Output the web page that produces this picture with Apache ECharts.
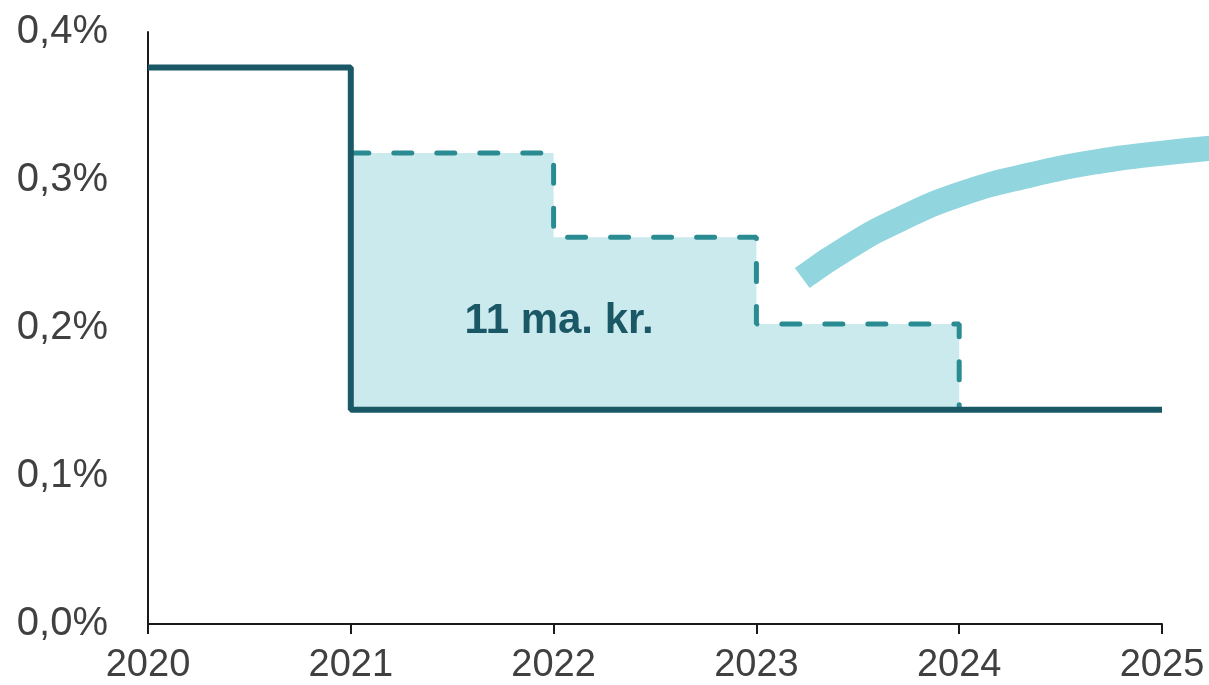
<!DOCTYPE html>
<html>
<head>
<meta charset="utf-8">
<script src="https://cdn.jsdelivr.net/npm/echarts@6/dist/echarts.min.js"></script>
<style>
html,body{margin:0;padding:0;background:#fff;}
#chart{width:1209px;height:685px;}
</style>
</head>
<body>
<div id="chart"></div>
<script>
// ---- data ----
const years = [2020, 2021, 2022, 2023, 2024, 2025];
const actualValues = [0.376, 0.1448, 0.1448, 0.1448, 0.1448, 0.1448];   // solid step line (%)
const planYears = [2021, 2022, 2023, 2024];
const planValues = [0.3182, 0.2613, 0.2027, 0.1448];                    // dashed step line (%)
const arcX = [2023.226, 2023.463, 2023.710, 2024.006, 2024.351, 2024.697, 2024.993, 2025.249];
const arcY = [0.2338, 0.2554, 0.2736, 0.2905, 0.3034, 0.3128, 0.3180, 0.3216];
const yTicks = [0, 0.1, 0.2, 0.3, 0.4];
const annotation = { x: 2022.03, y: 0.204, text: '11 ma. kr.' };

const solidColor = '#1b5866';
const dashColor = '#2a8b93';
const fillColor = '#cbeaed';
const arcColor = '#91d5df';
const textColor = '#404040';
const FONT = '"Liberation Sans", Arial, Helvetica, sans-serif';

const solidData = years.map((y, i) => [y, actualValues[i]]);
const planData = planYears.map((y, i) => [y, planValues[i]]);
const arcData = arcX.map((x, i) => [x, arcY[i]]);
const baseLevel = actualValues[1];

const chart = echarts.init(document.getElementById('chart'), null, { renderer: 'canvas' });
chart.setOption({
  animation: false,
  backgroundColor: '#ffffff',
  grid: [
    { left: 148, right: 47, top: 32, bottom: 61, containLabel: false, outerBoundsMode: 'none' },
    // same scale, wider extent so the decorative arc is not clipped at 2025
    { left: 148, width: 2028, top: 32, bottom: 61, containLabel: false, outerBoundsMode: 'none' }
  ],
  xAxis: [{
    type: 'value', min: 2020, max: 2025, interval: 1, gridIndex: 0,
    axisLine: { show: true, lineStyle: { color: '#1a1a1a', width: 2 } },
    axisTick: { show: true, length: 10, lineStyle: { color: '#1a1a1a', width: 2 } },
    splitLine: { show: false },
    axisLabel: { margin: 23, color: textColor, fontFamily: FONT, fontSize: 38, formatter: v => String(v) }
  }, {
    type: 'value', min: 2020, max: 2030, gridIndex: 1, show: false,
    splitLine: { show: false }
  }],
  yAxis: [{
    type: 'value', min: 0, max: 0.4, interval: 0.1, gridIndex: 0,
    axisLine: { show: true, lineStyle: { color: '#1a1a1a', width: 2 } },
    axisTick: { show: false },
    splitLine: { show: false },
    axisLabel: {
      margin: 40, color: textColor, fontFamily: FONT, fontSize: 40,
      customValues: yTicks,
      formatter: v => v.toFixed(1).replace('.', ',') + '%'
    }
  }, {
    type: 'value', min: 0, max: 0.4, gridIndex: 1, show: false,
    splitLine: { show: false }
  }],
  series: [
    {
      type: 'line', data: planData, step: 'end', symbol: 'none', z: 2,
      lineStyle: { color: dashColor, width: 5, type: [18, 25], cap: 'round' },
      areaStyle: { color: fillColor, opacity: 1, origin: baseLevel }
    },
    {
      type: 'line', data: solidData, step: 'end', symbol: 'none', z: 4,
      lineStyle: { color: solidColor, width: 6 }
    },
    {
      type: 'line', data: arcData, smooth: 0.5, symbol: 'none', z: 3,
      xAxisIndex: 1, yAxisIndex: 1,
      lineStyle: { color: arcColor, width: 25, cap: 'butt' }
    },
    {
      type: 'scatter', data: [[annotation.x, annotation.y]], symbolSize: 1,
      itemStyle: { color: 'rgba(255,255,255,0)', opacity: 1 }, z: 5, silent: true,
      label: {
        show: true, position: [0, 0], align: 'center', verticalAlign: 'middle',
        formatter: annotation.text, textBorderWidth: 0, opacity: 1,
        color: solidColor, fontFamily: FONT, fontSize: 42, fontWeight: 'bold'
      }
    }
  ]
});
</script>
</body>
</html>
